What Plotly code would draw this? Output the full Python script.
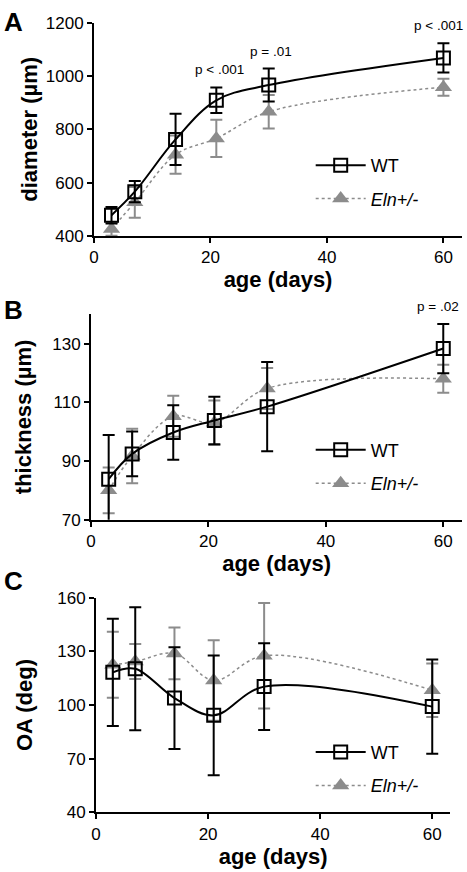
import plotly.graph_objects as go

days = [3, 7, 14, 21, 30, 60]

diam_wt = [478, 566, 762, 909, 966, 1068]
diam_wt_err = [31, 40, 96, 48, 62, 55]
diam_eln = [426, 526, 705, 766, 866, 958]
diam_eln_err = [25, 58, 72, 70, 63, 32]

thick_wt = [83.8, 92.4, 99.7, 103.8, 108.5, 128.3]
thick_wt_err = [15, 7.6, 9.3, 8.1, 15.2, 8.4]
thick_eln = [80, 91.7, 105.2, 103, 114.7, 118]
thick_eln_err = [7.8, 9.3, 7, 7.6, 7, 4.8]

oa_wt = [118.3, 120.3, 103.9, 94.2, 110.3, 99.1]
oa_wt_err = [30, 34.5, 28.5, 33.5, 24.3, 26.4]
oa_eln = [122.5, 124.3, 128.9, 113.7, 127.6, 108.3]
oa_eln_err = [18.5, 9.8, 14.5, 22.5, 29.6, 15]

p_labels_a = {21: "p < .001", 30: "p = .01", 60: "p < .001"}
p_labels_b = {60: "p = .02"}

FONT = "Arial, Liberation Sans, sans-serif"
GRAY = "#8c8c8c"

W, H = 467, 872

def px_x(a, b):
    return [a / W, b / W]

def px_y(top, bottom):
    return [1 - bottom / H, 1 - top / H]

panels = [
    dict(xd=px_x(90, 462), yd=px_y(14, 232), yr=[400, 1200], dt=200, title="diameter (µm)", so=2,
         wt=diam_wt, wte=diam_wt_err, el=diam_eln, ele=diam_eln_err, label="A", ly=None, leg=(309, 141), p=p_labels_a),
    dict(xd=px_x(87, 462), yd=px_y(312, 522), yr=[70, 140], dt=20, title="thickness (µm)", so=15,
         wt=thick_wt, wte=thick_wt_err, el=thick_eln, ele=thick_eln_err, label="B", ly=308, leg=(309, 432), p=p_labels_b),
    dict(xd=px_x(92, 450), yd=px_y(602, 821), yr=[40, 160], dt=30, title="OA (deg)", so=19,
         wt=oa_wt, wte=oa_wt_err, el=oa_eln, ele=oa_eln_err, label="C", ly=585, leg=(309, 741), p={}),
]
p_xshift = {21: 3, 30: 2, 60: -5}

fig = go.Figure()
layout = {}
annotations = []

for i, pn in enumerate(panels, start=1):
    sfx = "" if i == 1 else str(i)
    xa, ya = "x" + sfx, "y" + sfx
    leg = "legend" + sfx
    fig.add_trace(go.Scatter(
        x=days, y=pn["el"], mode="lines+markers", name="<i>Eln+/-</i>",
        line=dict(color=GRAY, width=1.5, dash="3px,3px", shape="spline", smoothing=1),
        marker=dict(symbol="triangle-up", size=15, color=GRAY),
        error_y=dict(type="data", array=pn["ele"], color=GRAY, thickness=2, width=6),
        xaxis=xa, yaxis=ya, legend=leg, legendrank=2, legendgroup=f"e{i}"))
    fig.add_trace(go.Scatter(
        x=days, y=pn["wt"], mode="lines+markers", name="WT",
        line=dict(color="black", width=2, shape="spline", smoothing=1),
        marker=dict(symbol="square-open", size=13, color="black", line=dict(width=2)),
        error_y=dict(type="data", array=pn["wte"], color="black", thickness=2, width=6),
        xaxis=xa, yaxis=ya, legend=leg, legendrank=1, legendgroup=f"w{i}"))

    layout["xaxis" + sfx] = dict(
        domain=pn["xd"], anchor=ya, range=[0, 63.2], tickvals=[0, 20, 40, 60],
        showline=True, linecolor="black", linewidth=2, ticks="outside", ticklen=5,
        tickwidth=2, tickcolor="black", showgrid=False, zeroline=False,
        tickfont=dict(size=17, family=FONT, color="black"),
        title=dict(text="<b>age (days)</b>", font=dict(size=22, family=FONT, color="black"), standoff=0))
    layout["yaxis" + sfx] = dict(
        domain=pn["yd"], anchor=xa, range=pn["yr"], dtick=pn["dt"], tick0=pn["yr"][0],
        showline=True, linecolor="black", linewidth=2, ticks="outside", ticklen=5,
        tickwidth=2, tickcolor="black", showgrid=False, zeroline=False,
        tickfont=dict(size=17, family=FONT, color="black"),
        title=dict(text="<b>" + pn["title"] + "</b>", font=dict(size=22, family=FONT, color="black"),
                   standoff=pn["so"]))
    layout[leg] = dict(
        x=pn["leg"][0] / W, y=1 - pn["leg"][1] / H, xanchor="left", yanchor="top",
        xref="paper", yref="paper", bgcolor="rgba(0,0,0,0)", itemwidth=50,
        font=dict(size=18, family=FONT, color="black"), traceorder="grouped", tracegroupgap=7)

    if pn["ly"] is None:
        annotations.append(dict(text="<b>" + pn["label"] + "</b>", x=0, y=1, yshift=4, xshift=-3,
                                xref="paper", yref="paper", xanchor="left", yanchor="top",
                                showarrow=False, font=dict(size=26, family=FONT, color="black")))
    else:
        annotations.append(dict(text="<b>" + pn["label"] + "</b>", x=0, y=1 - pn["ly"] / H, xshift=-3,
                                xref="paper", yref="paper", xanchor="left", yanchor="middle",
                                showarrow=False, font=dict(size=26, family=FONT, color="black")))
    for d, txt in pn["p"].items():
        k = days.index(d)
        annotations.append(dict(text=txt, x=d, y=pn["wt"][k] + pn["wte"][k], xref=xa, yref=ya,
                                xanchor="center", yanchor="bottom", yshift=8, xshift=p_xshift[d],
                                showarrow=False, font=dict(size=13.5, family=FONT, color="black")))

fig.update_layout(
    width=W, height=H, margin=dict(l=0, r=0, t=0, b=0),
    paper_bgcolor="white", plot_bgcolor="white",
    font=dict(family=FONT, color="black"),
    annotations=annotations, **layout)

fig.write_html("out.html", config={"displayModeBar": False},
               post_script="document.body.style.margin='0';document.body.style.overflow='hidden';")
